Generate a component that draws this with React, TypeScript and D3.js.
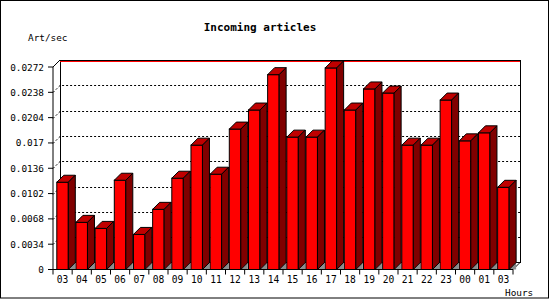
import React from "react";
import * as d3 from "d3";

const categories = ["03","04","05","06","07","08","09","10","11","12","13","14","15","16","17","18","19","20","21","22","23","00","01","03"];
const values = [0.01172,0.00633,0.00552,0.01199,0.00471,0.00808,0.01226,0.0167,0.0128,0.01886,0.02142,0.02617,0.01778,0.01778,0.02707,0.02142,0.02425,0.0237,0.0167,0.0167,0.02276,0.01728,0.01836,0.01104];
const yTicks = [0,0.0034,0.0068,0.0102,0.0136,0.017,0.0204,0.0238,0.0272];
const yTickLabels = ["0","0.0034","0.0068","0.0102","0.0136","0.017","0.0204","0.0238","0.0272"];
const title = "Incoming articles";
const yTitle = "Art/sec";
const xTitle = "Hours";

export default function App() {
  const W = 550, H = 300;
  const D = 7;
  const left = 53, right = 513, y0 = 269.5, yTop = 67;
  const x = d3.scaleBand<number>().domain(d3.range(categories.length)).range([left, right]);
  const y = d3.scaleLinear().domain([0, 0.0272]).range([y0, yTop]);
  const bw = 11.5, boff = 3.8;
  const font = "'DejaVu Sans Mono', monospace";
  const bx = right + D; // back right
  return (
    <svg width={W} height={H} style={{ position: "absolute", left: 0, top: 0, background: "#fff" }}>
      <rect x={0.5} y={0.5} width={548} height={297.5} fill="#fff" stroke="#000" />
      <text x={260} y={31} textAnchor="middle" fontFamily={font} fontWeight="bold" fontSize={11}>{title}</text>
      <text x={28} y={40.5} fontFamily={font} fontSize={9.4}>{yTitle}</text>
      {/* back plane */}
      <rect x={left + D} y={yTop - D} width={right - left} height={y0 - yTop} fill="#fff" stroke="#000" shapeRendering="crispEdges" />
      <line x1={left + D} x2={bx} y1={yTop - D + 1} y2={yTop - D + 1} stroke="#f00" shapeRendering="crispEdges" />
      {/* grid */}
      {yTicks.slice(1, -1).map((t, i) => {
        const yy = Math.round(y(t)) + 0.5;
        return (
          <path key={i} d={`M${left},${yy}L${left + D},${yy - D}L${bx},${yy - D}`} fill="none" stroke="#000" strokeDasharray="2,2" />
        );
      })}
      {/* right edge diagonal */}
      <line x1={right} y1={y0} x2={bx} y2={y0 - D} stroke="#000" />
      {/* top-left diagonal */}
      <line x1={left} y1={yTop} x2={left + D} y2={yTop - D} stroke="#000" />
      {/* bars */}
      {values.map((v, i) => {
        const x0 = (x(i) as number) + boff;
        const x1 = x0 + bw;
        const yt = y(v);
        return (
          <g key={i} stroke="#000" strokeWidth={1} strokeLinejoin="miter">
            <path d={`M${x1},${y0}L${x1 + D},${y0 - D}L${x1 + D},${y0}Z`} fill="#8c8c8c" stroke="none" />
            <rect x={x0} y={yt} width={bw} height={y0 - yt} fill="#ff0000" />
            <path d={`M${x0},${yt}L${x0 + D},${yt - D}L${x1 + D},${yt - D}L${x1},${yt}Z`} fill="#c00000" />
            <path d={`M${x1},${yt}L${x1 + D},${yt - D}L${x1 + D},${y0 - D}L${x1},${y0}Z`} fill="#800000" />
          </g>
        );
      })}
      {/* axes */}
      <line x1={left} x2={left} y1={yTop} y2={y0} stroke="#000" />
      <line x1={left} x2={right} y1={y0} y2={y0} stroke="#000" />
      {yTicks.map((t, i) => (
        <g key={i}>
          <line x1={left - 5} x2={left} y1={y(t)} y2={y(t)} stroke="#000" />
          <text x={44} y={y(t) + 3.5} textAnchor="end" fontFamily={font} fontSize={9.4}>{yTickLabels[i]}</text>
        </g>
      ))}
      {d3.range(categories.length + 1).map((i) => {
        const xx = i < categories.length ? (x(i) as number) : right;
        return <line key={i} x1={xx} x2={xx} y1={y0} y2={y0 + 5} stroke="#000" />;
      })}
      {categories.map((c, i) => (
        <text key={i} x={(x(i) as number) + x.bandwidth() / 2} y={283} textAnchor="middle" fontFamily={font} fontSize={9.6}>{c}</text>
      ))}
      <text x={505} y={296} fontFamily={font} fontSize={9.4}>{xTitle}</text>
    </svg>
  );
}
